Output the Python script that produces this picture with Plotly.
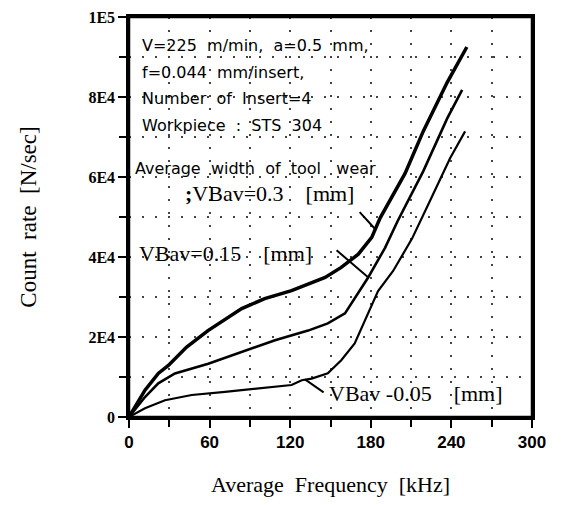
import plotly.graph_objects as go

# Data (frequency in kHz, count rate in N/sec)
freq_03 = [0, 11.9, 21.8, 29.3, 42.9, 58.8, 83.9, 101, 121, 146, 158, 170.7, 180.7, 187, 205.5, 219, 236.8, 251.5]
rate_03 = [0, 6700, 10900, 12900, 17500, 21600, 27100, 29600, 31600, 34900, 37400, 40700, 44900, 49800, 60900, 71400, 83600, 92500]

freq_015 = [0, 11.9, 21.8, 34.2, 59, 84, 108.7, 133.3, 148, 160.8, 170.5, 177.9, 190.6, 200, 219, 236.8, 248]
rate_015 = [0, 5000, 8400, 10900, 13300, 16200, 19200, 21600, 23400, 25900, 30800, 34800, 42300, 49000, 61400, 74600, 81800]

freq_005 = [0, 11.9, 26.8, 46.7, 71.5, 96, 121, 128.6, 136, 148, 158, 168, 175.7, 185.4, 196.6, 210.7, 224, 239, 250.2]
rate_005 = [0, 2200, 4200, 5500, 6300, 7200, 8000, 9200, 9600, 10900, 14200, 18400, 24100, 31500, 36500, 44600, 54000, 64700, 71400]

x_tickvals = [0, 60, 120, 180, 240, 300]
x_ticktext = ["0", "60", "120", "180", "240", "300"]
y_tickvals = [0, 20000, 40000, 60000, 80000, 100000]
y_ticktext = ["0", "2E4", "4E4", "6E4", "8E4", "1E5"]

info_lines = [
    "V=225  m/min,  a=0.5  mm,",
    "f=0.044  mm/insert,",
    "Number  of  Insert=4",
    "Workpiece  :  STS  304",
]
label_03 = "<b>;</b>VBav=0.3    [mm]"
label_015 = "VBav=0.15    [mm]"
label_005 = "VBav -0.05    [mm]"
wear_title = "Average  width  of  tool   wear"

fig = go.Figure()
fig.add_trace(go.Scatter(x=freq_03, y=rate_03, mode="lines",
                         line=dict(color="black", width=3.5), showlegend=False))
fig.add_trace(go.Scatter(x=freq_015, y=rate_015, mode="lines",
                         line=dict(color="black", width=2.6), showlegend=False))
fig.add_trace(go.Scatter(x=freq_005, y=rate_005, mode="lines",
                         line=dict(color="black", width=2.2), showlegend=False))

sans = "DejaVu Sans"
serif = "Liberation Serif"
ann = []
info_y = [93000, 86100, 79600, 72900]
for t, yv in zip(info_lines, info_y):
    ann.append(dict(x=8.2, y=yv, text=t, showarrow=False, xanchor="left", yanchor="middle",
                    font=dict(family=sans, size=16, color="black")))
ann.append(dict(x=3, y=62200, text=wear_title, showarrow=False,
                xanchor="left", yanchor="middle",
                font=dict(family=sans, size=16, color="black")))
ann.append(dict(x=40.2, y=56000, text=label_03, showarrow=False, xanchor="left", yanchor="middle",
                font=dict(family=serif, size=22, color="black")))
ann.append(dict(x=6, y=40800, text=label_015, showarrow=False, xanchor="left", yanchor="middle",
                font=dict(family=serif, size=22, color="black")))
ann.append(dict(x=147.4, y=6000, text=label_005, showarrow=False, xanchor="left", yanchor="middle",
                font=dict(family=serif, size=22, color="black")))
# leader lines
for (hx, hy, tx, ty) in [(183.2, 47000, 170.7, 51600), (178.2, 34900, 153.4, 42000), (131, 9400, 146, 5900)]:
    ann.append(dict(x=hx, y=hy, ax=tx, ay=ty, xref="x", yref="y", axref="x", ayref="y",
                    text="", showarrow=True, arrowhead=0, arrowwidth=2, arrowcolor="black"))

grid = dict(showgrid=True, gridcolor="#444", gridwidth=1.5, griddash="2px,11px")

fig.update_layout(
    width=561, height=489,
    margin=dict(l=121, r=37, t=9, b=80, autoexpand=False),
    paper_bgcolor="white", plot_bgcolor="white",
    annotations=ann,
    shapes=[dict(type="rect", xref="paper", yref="paper", x0=0, y0=0, x1=1, y1=1,
                 line=dict(color="black", width=2.5), layer="above")],
    xaxis=dict(range=[0, 300], tickvals=x_tickvals, ticktext=x_ticktext, automargin=False,
               ticks="outside", ticklen=8, tickwidth=2, tickcolor="black",
               showline=True, linewidth=2.5, linecolor="black", mirror=True,
               zeroline=False, ticklabeloverflow="allow", **grid,
               minor=dict(dtick=30, ticks="outside", ticklen=7, tickwidth=2, tickcolor="black", **grid),
               tickfont=dict(family="Liberation Sans", size=17, color="black", weight="bold"),
               title=dict(text="Average  Frequency  [kHz]", standoff=26,
                          font=dict(family=serif, size=22, color="black"))),
    yaxis=dict(range=[0, 100000], tickvals=y_tickvals, ticktext=y_ticktext, automargin=False,
               ticks="outside", ticklen=8, tickwidth=2, tickcolor="black",
               showline=True, linewidth=2.5, linecolor="black", mirror=True,
               zeroline=False, ticklabeloverflow="allow", **grid,
               minor=dict(dtick=10000, ticks="outside", ticklen=7, tickwidth=2, tickcolor="black", **grid),
               tickfont=dict(family=serif, size=16, color="black", weight="bold"),
               title=dict(text="Count  rate  [N/sec]", standoff=46,
                          font=dict(family=serif, size=23, color="black"))),
)

fig.write_html("out.html")
